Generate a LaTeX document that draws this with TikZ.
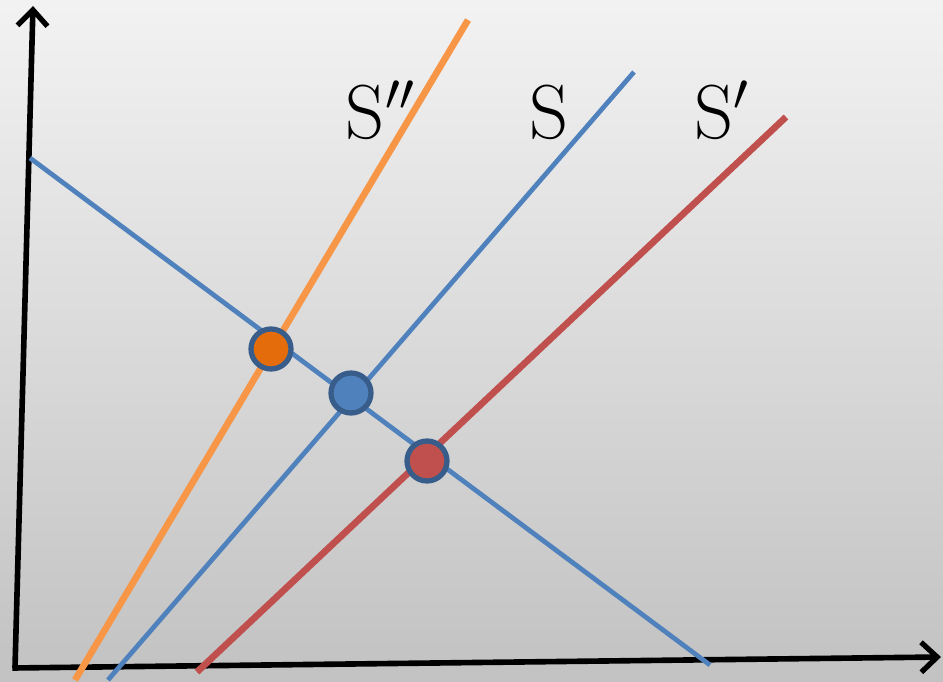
\documentclass[tikz,border=0pt]{standalone}
\usepackage{tikz}
\usetikzlibrary{arrows.meta}

\definecolor{supblue}{HTML}{4F81BD}
\definecolor{suporange}{HTML}{F79646}
\definecolor{supred}{HTML}{C0504D}
\definecolor{dotorange}{HTML}{E46C0A}
\definecolor{dotrim}{HTML}{385D8A}

\begin{document}
\begin{tikzpicture}[
        x=0.02cm, y=-0.02cm,
        axis/.style={line width=3.2pt, -{Straight Barb[length=3.2mm, width=6mm, line width=3pt]}},
        curve/.style={line width=2.7pt},
        thickcurve/.style={line width=3.8pt},
        eqdot/.style={circle, draw=dotrim, line width=3pt, minimum size=0.8cm, inner sep=0pt},
        lbl/.style={font=\huge, scale=2.1},
    ]
        % Background
        \shade[top color=gray!10, bottom color=gray!48] (0,0) rectangle (943,682);
        \useasboundingbox (0,0) rectangle (943,682);

        % Axes
        \coordinate (origin) at (15,668);
        \coordinate (ytop) at (33,6);
        \coordinate (xend) at (941,657);
        \draw[axis] (origin) -- (ytop);
        \draw[axis] ([xshift=-1.5pt]origin) -- (xend);

        % Demand line
        \coordinate (d1) at (30,158);
        \coordinate (d2) at (710,665);
        \draw[curve, supblue] (d1) -- (d2);

        % Supply lines
        \coordinate (s2a) at (75,680);
        \coordinate (s2b) at (468,20);
        \coordinate (s0a) at (108,680);
        \coordinate (s0b) at (634,72);
        \coordinate (s1a) at (197,672);
        \coordinate (s1b) at (786,117);
        \draw[thickcurve, suporange] (s2a) -- (s2b);
        \draw[curve, supblue] (s0a) -- (s0b);
        \draw[thickcurve, supred] (s1a) -- (s1b);

        % Labels
        \node[lbl] (lsdd) at (381,110) {$\mathrm{S}''$};
        \node[lbl] (ls) at (549,112) {$\mathrm{S}$};
        \node[lbl] (lsd) at (722,110) {$\mathrm{S}'$};

        % Equilibrium points
        \node[eqdot, fill=dotorange] (e2) at (271,349) {};
        \node[eqdot, fill=supblue] (e0) at (351,393) {};
        \node[eqdot, fill=supred] (e1) at (427,461) {};
    \end{tikzpicture}
\end{document}
